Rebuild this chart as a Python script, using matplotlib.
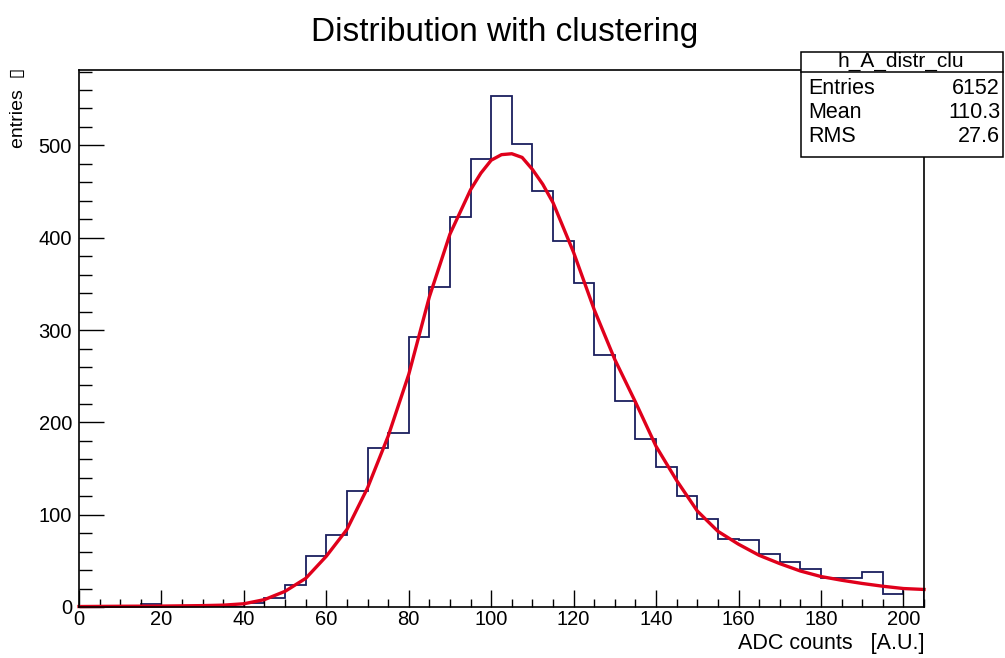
import numpy as np
import matplotlib
matplotlib.use("Agg")
import matplotlib.pyplot as plt
from matplotlib.patches import Rectangle
from matplotlib.lines import Line2D
from matplotlib.ticker import MultipleLocator

plt.rcParams['font.family'] = ['Liberation Sans', 'DejaVu Sans']

# ---- data ----
bin_edges = list(range(0, 210, 5))
counts = [0, 0, 0, 3, 1, 0, 1, 0, 4, 10, 24, 55, 78, 126, 172, 189, 292, 347,
          423, 485, 554, 502, 451, 397, 351, 273, 223, 182, 152, 120, 95, 74,
          73, 57, 49, 41, 31, 31, 38, 14, 20]
fit_x = [0, 10, 20, 30, 35, 40, 45, 50, 55, 60, 65, 70, 75, 80, 85, 90, 95,
         97.5, 100, 102.5, 105, 107.5, 110, 112.5, 115, 120, 125, 130, 135,
         140, 145, 150, 155, 160, 165, 170, 175, 180, 185, 190, 195, 200, 205]
fit_y = [0.5, 0.8, 1, 1.5, 2, 3.5, 8, 17, 31, 55, 84, 129, 185, 252, 336, 404,
         452, 470, 484, 490, 491, 487, 474, 458, 438, 384, 322, 268, 222, 174,
         137, 104, 82, 68, 56, 47, 39, 33, 29, 25.5, 22.5, 20, 19]
title = "Distribution with clustering"
xlabel = "ADC counts   [A.U.]"
ylabel = "entries  \u25af"
stat_name = "h_A_distr_clu"
stat_rows = [("Entries", "6152"), ("Mean", "110.3"), ("RMS", "27.6")]

W, H = 1005, 658
fig = plt.figure(figsize=(W / 100, H / 100), dpi=100)
L, R, T, B = 79, 924, 70, 607
ax = fig.add_axes([L / W, 1 - B / H, (R - L) / W, (B - T) / H])

ax.stairs(counts, bin_edges, color='#1a1f5e', linewidth=1.3)
ax.plot(fit_x, fit_y, color='#e0001b', linewidth=2.4, solid_joinstyle='round',
        clip_on=False)

ax.set_xlim(0, 205)
ax.set_ylim(0, 1.05 * max(counts))

ax.xaxis.set_major_locator(MultipleLocator(20))
ax.xaxis.set_minor_locator(MultipleLocator(5))
ax.yaxis.set_major_locator(MultipleLocator(100))
ax.yaxis.set_minor_locator(MultipleLocator(20))
ax.tick_params(axis='x', which='major', direction='in', length=12.5, width=1,
               labelsize=14.5, pad=2.5, top=False)
ax.tick_params(axis='x', which='minor', direction='in', length=6, width=1, top=False)
ax.tick_params(axis='y', which='major', direction='in', length=18, width=1,
               labelsize=14.5, pad=5, right=False)
ax.tick_params(axis='y', which='minor', direction='in', length=9, width=1, right=False)
for s in ax.spines.values():
    s.set_linewidth(1.2)

fig.text(0.502, 1 - 32 / H, title, ha='center', va='center', fontsize=24)
fig.text(924 / W, 1 - 643 / H, xlabel, ha='right', va='center', fontsize=15.5)
fig.text(18 / W, 1 - 68 / H, ylabel, ha='center', va='top', rotation=90,
         fontsize=14)

# stat box
bx0, bx1, by0, by1, bsep = 801, 1003, 52, 157, 72
fig.patches.append(Rectangle((bx0 / W, 1 - by1 / H), (bx1 - bx0) / W,
                             (by1 - by0) / H, transform=fig.transFigure,
                             facecolor='white', edgecolor='black', lw=1.1,
                             zorder=5))
fig.lines.append(Line2D([bx0 / W, bx1 / W], [1 - bsep / H, 1 - bsep / H],
                        transform=fig.transFigure, color='black', lw=1.1,
                        zorder=6))
fig.text((bx0 + bx1) / 2 / W - 0.001, 1 - 61 / H, stat_name, ha='center',
         va='center', fontsize=15, zorder=7)
for i, (k, v) in enumerate(stat_rows):
    yy = 1 - (88 + 24 * i) / H
    fig.text(808 / W, yy, k, ha='left', va='center', fontsize=15.5, zorder=7)
    fig.text(1000 / W, yy, v, ha='right', va='center', fontsize=15.5, zorder=7)

fig.savefig('out.png', dpi=100)
